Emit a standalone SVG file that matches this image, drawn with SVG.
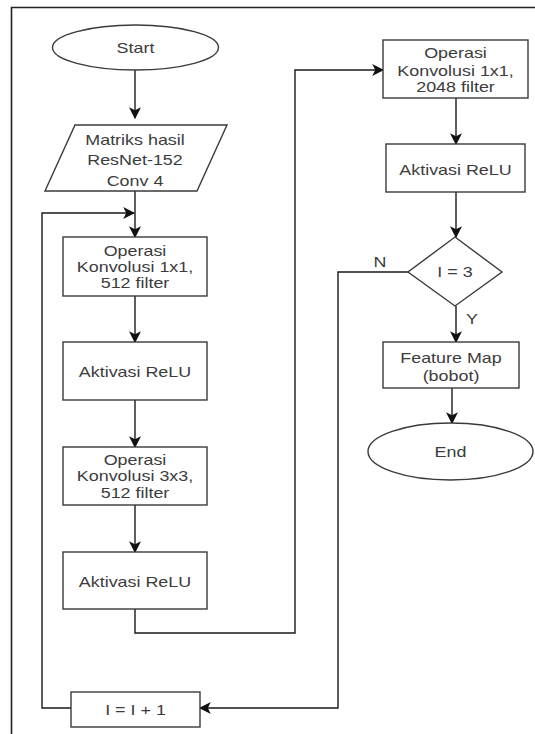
<svg xmlns="http://www.w3.org/2000/svg" width="535" height="734" viewBox="0 0 535 734">
<style>
.n{fill:#fff;stroke:#3a3a3a;stroke-width:1.4}
.t{font-family:"Liberation Sans",Arial,sans-serif;font-size:14px;fill:#3c3c3c;text-anchor:middle}
.c{fill:none;stroke:#1a1a1a;stroke-width:1.4}
.f{fill:none;stroke:#222;stroke-width:1.6}
</style>
<defs>
<marker id="a" markerUnits="userSpaceOnUse" markerWidth="12" markerHeight="12" viewBox="0 0 10 10" refX="9" refY="5" orient="auto">
<path d="M0,0 L10,5 L0,10 L2.5,5 Z" fill="#111"/>
</marker>
</defs>
<rect width="535" height="734" fill="#fff"/>
<path class="f" d="M11.5,734 V7.5 H535"/>
<g id="connectors">
<path class="c" d="M135,70 V118" marker-end="url(#a)"/>
<path class="c" d="M135,191 V237" marker-end="url(#a)"/>
<path class="c" d="M135,296 V342" marker-end="url(#a)"/>
<path class="c" d="M135,400 V447" marker-end="url(#a)"/>
<path class="c" d="M135,505 V552" marker-end="url(#a)"/>
<path class="c" d="M135,609 V633 H295 V70 H383" marker-end="url(#a)"/>
<path class="c" d="M456,98 V144" marker-end="url(#a)"/>
<path class="c" d="M456,192 V237" marker-end="url(#a)"/>
<path class="c" d="M456,306 V342" marker-end="url(#a)"/>
<path class="c" d="M452,388 V423" marker-end="url(#a)"/>
<path class="c" d="M408,272 H338 V708 H200" marker-end="url(#a)"/>
<path class="c" d="M71,708 H42 V213 H134" marker-end="url(#a)"/>
<text class="t" transform="translate(380,267) scale(1.28,1)">N</text>
<text class="t" transform="translate(472,324) scale(1.28,1)">Y</text>
</g>
<g id="start">
<ellipse class="n" cx="135.5" cy="47.5" rx="83" ry="22.5"/>
<text class="t" transform="translate(135.5,52.5) scale(1.28,1)">Start</text>
</g>
<g id="input">
<path class="n" d="M75,125 H227 L197,191 H45 Z"/>
<text class="t" transform="translate(135,145) scale(1.28,1)">Matriks hasil</text>
<text class="t" transform="translate(135,165) scale(1.28,1)">ResNet-152</text>
<text class="t" transform="translate(135,186) scale(1.28,1)">Conv 4</text>
</g>
<g id="conv1">
<rect class="n" x="63" y="237" width="144" height="59"/>
<text class="t" transform="translate(135,256) scale(1.28,1)">Operasi</text>
<text class="t" transform="translate(135,272) scale(1.28,1)">Konvolusi 1x1,</text>
<text class="t" transform="translate(135,288) scale(1.28,1)">512 filter</text>
</g>
<g id="relu1">
<rect class="n" x="63" y="342" width="144" height="58"/>
<text class="t" transform="translate(135,376.5) scale(1.28,1)">Aktivasi ReLU</text>
</g>
<g id="conv2">
<rect class="n" x="63" y="447" width="144" height="58"/>
<text class="t" transform="translate(135,465) scale(1.28,1)">Operasi</text>
<text class="t" transform="translate(135,481) scale(1.28,1)">Konvolusi 3x3,</text>
<text class="t" transform="translate(135,498) scale(1.28,1)">512 filter</text>
</g>
<g id="relu2">
<rect class="n" x="63" y="552" width="144" height="57"/>
<text class="t" transform="translate(135,586.5) scale(1.28,1)">Aktivasi ReLU</text>
</g>
<g id="inc">
<rect class="n" x="71" y="692" width="129" height="35"/>
<text class="t" transform="translate(135.5,714.5) scale(1.28,1)">I = I + 1</text>
</g>
<g id="conv3">
<rect class="n" x="383" y="40" width="145" height="58"/>
<text class="t" transform="translate(455.5,58) scale(1.28,1)">Operasi</text>
<text class="t" transform="translate(455.5,75.5) scale(1.28,1)">Konvolusi 1x1,</text>
<text class="t" transform="translate(455.5,92) scale(1.28,1)">2048 filter</text>
</g>
<g id="relu3">
<rect class="n" x="386" y="144" width="139" height="48"/>
<text class="t" transform="translate(455.5,174.5) scale(1.28,1)">Aktivasi ReLU</text>
</g>
<g id="decision">
<path class="n" d="M455,237 L502,272 L455,306 L408,272 Z"/>
<text class="t" transform="translate(455,277) scale(1.28,1)">I = 3</text>
</g>
<g id="feature">
<rect class="n" x="383" y="342" width="136" height="46"/>
<text class="t" transform="translate(451,363) scale(1.28,1)">Feature Map</text>
<text class="t" transform="translate(451,381) scale(1.28,1)">(bobot)</text>
</g>
<g id="end">
<ellipse class="n" cx="450.5" cy="451.5" rx="82.5" ry="28.5"/>
<text class="t" transform="translate(450.5,456.5) scale(1.28,1)">End</text>
</g>
</svg>
